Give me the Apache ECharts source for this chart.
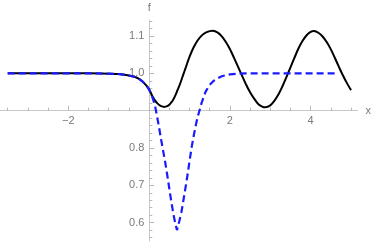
<!DOCTYPE html>
<html><head><meta charset="utf-8">
<script src="https://cdn.jsdelivr.net/npm/echarts@6/dist/echarts.min.js"></script>
<style>html,body{margin:0;padding:0;background:#fff}#c{width:374px;height:245px}</style>
</head><body><div id="c"></div>
<script>
// Solid black curve
const blackX = [-3.5,-3,-2.5,-2,-1.5,-1,-0.75,-0.5,-0.35,-0.25,-0.15,-0.05,0,0.05,0.1,0.15,0.2,0.25,0.3,0.37,0.45,0.5,0.55,0.6,0.65,0.7,0.75,0.8,0.85,0.9,0.95,1.0,1.1,1.2,1.3,1.4,1.5,1.58,1.7,1.8,1.9,2.0,2.1,2.2,2.3,2.4,2.5,2.6,2.7,2.8,2.88,3.0,3.1,3.2,3.3,3.4,3.5,3.6,3.7,3.8,3.9,4.0,4.08,4.2,4.3,4.4,4.5,4.6,4.7,4.8,4.9,5.0];
const blackY = [1.0,1.0,1.0,1.0,1.0,0.999,0.998,0.994,0.99,0.985,0.977,0.965,0.957,0.946,0.935,0.927,0.92,0.915,0.912,0.91,0.912,0.916,0.922,0.93,0.941,0.954,0.967,0.982,0.998,1.013,1.029,1.044,1.069,1.088,1.101,1.109,1.113,1.114,1.109,1.099,1.084,1.065,1.042,1.018,0.994,0.97,0.949,0.932,0.918,0.911,0.909,0.914,0.926,0.943,0.965,0.99,1.016,1.042,1.067,1.087,1.102,1.111,1.113,1.108,1.098,1.083,1.064,1.041,1.017,0.994,0.973,0.955];
// Dashed blue curve
const blueX = [-3.5,-3,-2.5,-2,-1.5,-1,-0.75,-0.5,-0.35,-0.25,-0.15,-0.05,0,0.05,0.1,0.15,0.2,0.25,0.3,0.35,0.4,0.45,0.5,0.55,0.6,0.65,0.69,0.75,0.8,0.85,0.9,0.95,1.0,1.05,1.1,1.15,1.2,1.3,1.4,1.5,1.6,1.7,1.8,1.9,2.0,2.2,2.4,3.0,3.5,4.0,4.68];
const blueY = [1.0,1.0,1.0,1.0,1.0,0.999,0.998,0.994,0.99,0.985,0.977,0.965,0.956,0.944,0.93,0.911,0.883,0.853,0.821,0.791,0.761,0.727,0.691,0.656,0.624,0.597,0.58,0.605,0.628,0.66,0.693,0.727,0.764,0.8,0.83,0.858,0.882,0.921,0.951,0.969,0.98,0.987,0.992,0.995,0.997,0.999,1.0,1.0,1.0,1.0,1.0];
// Ticks
const xMajorTicks = [-2, 0, 2, 4];
const xTickLabels = [-2, 2, 4];
const xMinorTicks = [-3.5,-3,-2.5,-1.5,-1,-0.5,0.5,1,1.5,2.5,3,3.5,4.5,5];
const yMajorTicks = [0.6, 0.7, 0.8, 0.9, 1.0, 1.1];
const yTickLabels = [0.6, 0.7, 0.8, 1.0, 1.1];
const yMinorTicks = [0.56,0.58,0.62,0.64,0.66,0.68,0.72,0.74,0.76,0.78,0.82,0.84,0.86,0.88,0.92,0.94,0.96,0.98,1.02,1.04,1.06,1.08,1.12,1.14];
const xName = 'x', yName = 'f';

// Layout
const W = 374, H = 245;
const G = {left: 0, right: 16, top: 20, bottom: 4};
const gw = W - G.left - G.right, gh = H - G.top - G.bottom;
const xMin = -3.691, xMax = 5.159, yMin = 0.5508, yMax = 1.1428;
const xAxisAtY = 0.9, yAxisAtX = 0;
const xOff = -((xAxisAtY - yMin) / (yMax - yMin)) * gh;
const yOff = -((yAxisAtX - xMin) / (xMax - xMin)) * gw;

const axisCol = '#c8c8c8', tickCol = '#b8b8b8', lblCol = '#7a7a7a';
const font = 'Liberation Sans, Arial, sans-serif';
const fmtX = v => (v < 0 ? '\u2212' : '') + Math.abs(v);
const fmtY = v => Number(v).toFixed(1);

const chart = echarts.init(document.getElementById('c'), null, {renderer: 'canvas'});
chart.setOption({
  animation: false,
  backgroundColor: '#fff',
  grid: {left: G.left, right: G.right, top: G.top, bottom: G.bottom, containLabel: false},
  xAxis: [{
    type: 'value', min: xMin, max: xMax, position: 'bottom', offset: xOff,
    name: xName, nameLocation: 'end', nameGap: 8,
    nameTextStyle: {color: lblCol, fontSize: 11, fontFamily: font},
    axisLine: {show: true, onZero: false, lineStyle: {color: axisCol, width: 1}},
    axisTick: {show: true, inside: true, length: 5, customValues: xMajorTicks, lineStyle: {color: tickCol}},
    axisLabel: {show: true, customValues: xTickLabels, formatter: fmtX, color: lblCol, fontSize: 11, fontFamily: font, margin: 5},
    splitLine: {show: false}
  }, {
    type: 'value', min: xMin, max: xMax, position: 'bottom', offset: xOff,
    axisLine: {show: false, onZero: false},
    axisTick: {show: true, inside: true, length: 3, customValues: xMinorTicks, lineStyle: {color: tickCol}},
    axisLabel: {show: false},
    splitLine: {show: false}
  }],
  yAxis: [{
    type: 'value', min: yMin, max: yMax, position: 'left', offset: yOff,
    name: yName, nameLocation: 'end', nameGap: 7,
    nameTextStyle: {color: lblCol, fontSize: 11, fontFamily: font, align: 'center'},
    axisLine: {show: true, onZero: false, lineStyle: {color: axisCol, width: 1}},
    axisTick: {show: true, inside: true, length: 5, customValues: yMajorTicks, lineStyle: {color: tickCol}},
    axisLabel: {show: true, customValues: yTickLabels, formatter: fmtY, color: lblCol, fontSize: 11, fontFamily: font, margin: 5},
    splitLine: {show: false}
  }, {
    type: 'value', min: yMin, max: yMax, position: 'left', offset: yOff,
    axisLine: {show: false, onZero: false},
    axisTick: {show: true, inside: true, length: 3, customValues: yMinorTicks, lineStyle: {color: tickCol}},
    axisLabel: {show: false},
    splitLine: {show: false}
  }],
  series: [{
    type: 'line', xAxisIndex: 0, yAxisIndex: 0,
    data: blackX.map((x, i) => [x, blackY[i]]),
    showSymbol: false, smooth: 0.25, z: 3,
    lineStyle: {color: '#000', width: 2}
  }, {
    type: 'line', xAxisIndex: 0, yAxisIndex: 0,
    data: blueX.map((x, i) => [x, blueY[i]]),
    showSymbol: false, smooth: false, z: 4,
    lineStyle: {color: '#1a1aff', width: 2.2, type: [7, 4]}
  }]
});
</script></body></html>
